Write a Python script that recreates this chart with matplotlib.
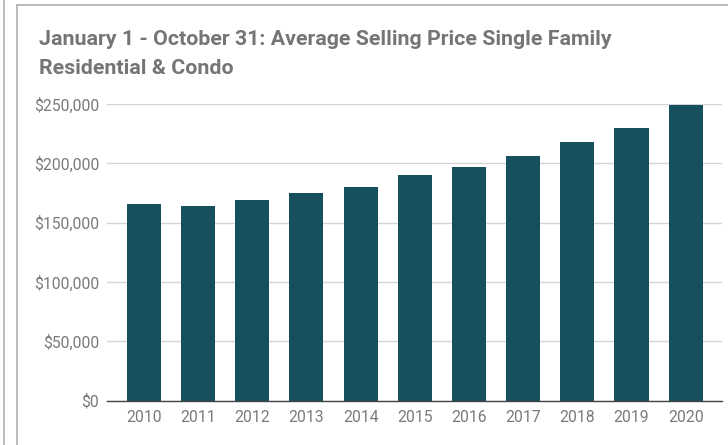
import matplotlib.pyplot as plt
from matplotlib.lines import Line2D
from matplotlib.ticker import FuncFormatter

years = ['2010', '2011', '2012', '2013', '2014', '2015', '2016', '2017', '2018', '2019', '2020']
avg_price = [166000, 164000, 169000, 175000, 180000, 190000, 197000, 206000, 218000, 230000, 249000]
y_ticks = [0, 50000, 100000, 150000, 200000, 250000]

title = 'January 1 - October 31: Average Selling Price Single Family\nResidential & Condo'

plt.rcParams['font.family'] = ['Roboto', 'DejaVu Sans']

W, H = 728, 445
fig = plt.figure(figsize=(W / 100, H / 100), dpi=100)

# card borders (outer line + card left/top edge)
grey = '#b0b0b0'
fig.add_artist(Line2D([3.5 / W, 3.5 / W], [0, 1], color=grey, lw=1.2))
fig.add_artist(Line2D([16.5 / W, 16.5 / W], [0, 1 - 5 / H], color=grey, lw=1.2))
fig.add_artist(Line2D([16.5 / W, 1], [1 - 5 / H, 1 - 5 / H], color=grey, lw=1.2))

ax = fig.add_axes([107 / W, 1 - 400.5 / H, (722 - 107) / W, (400.5 - 104) / H])

x = range(len(years))
ax.bar(x, avg_price, width=0.63, color='#164f5d', zorder=3)

ax.set_xlim(-0.68, 10.67)
ax.set_ylim(0, 250000)
ax.set_xticks(list(x))
ax.set_xticklabels(years)
ax.set_yticks(y_ticks)
ax.yaxis.set_major_formatter(FuncFormatter(lambda v, p: f'${v:,.0f}'))

ax.grid(axis='y', color='#d4d4d4', lw=1, zorder=0)
for s in ['top', 'right', 'left']:
    ax.spines[s].set_visible(False)
ax.spines['bottom'].set_color('#444444')
ax.spines['bottom'].set_linewidth(1)
ax.spines['bottom'].set_zorder(4)
ax.tick_params(axis='both', length=0, labelsize=11.3, colors='#7a7a7a')
ax.tick_params(axis='x', pad=7)
ax.tick_params(axis='y', pad=5.5)

fig.text(39 / W, 1 - 30 / H, title, ha='left', va='top', fontsize=15.4,
         fontweight='bold', color='#757575', linespacing=1.65)

fig.savefig('out.png', dpi=100)
